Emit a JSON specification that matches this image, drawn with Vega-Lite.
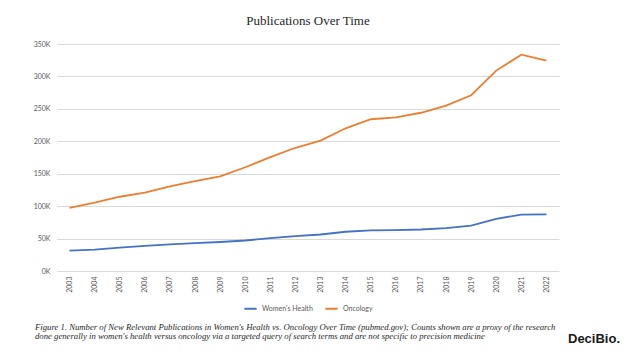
{
  "$schema": "https://vega.github.io/schema/vega-lite/v6.json",
  "background": "white",
  "padding": {"left": 33, "top": 15, "right": 0, "bottom": 0},
  "spacing": 9,
  "resolve": {"scale": {"color": "independent"}, "legend": {"color": "independent"}},
  "config": {
    "view": {"stroke": null},
    "font": "Lato",
    "legend": {"layout": {"bottom": {"anchor": "middle"}}}
  },
  "vconcat": [
    {
      "title": {
        "text": "Publications Over Time",
        "font": "Liberation Serif",
        "fontSize": 13,
        "fontWeight": "normal",
        "color": "#262626",
        "anchor": "middle",
        "offset": 12
      },
      "width": 502,
      "height": 227,
      "data": {
        "values": [
          {"year": "2003", "series": "Women's Health", "count": 31500},
          {"year": "2004", "series": "Women's Health", "count": 33000},
          {"year": "2005", "series": "Women's Health", "count": 36000},
          {"year": "2006", "series": "Women's Health", "count": 38700},
          {"year": "2007", "series": "Women's Health", "count": 41000},
          {"year": "2008", "series": "Women's Health", "count": 43000},
          {"year": "2009", "series": "Women's Health", "count": 44700},
          {"year": "2010", "series": "Women's Health", "count": 47000},
          {"year": "2011", "series": "Women's Health", "count": 50700},
          {"year": "2012", "series": "Women's Health", "count": 53700},
          {"year": "2013", "series": "Women's Health", "count": 56300},
          {"year": "2014", "series": "Women's Health", "count": 60500},
          {"year": "2015", "series": "Women's Health", "count": 62500},
          {"year": "2016", "series": "Women's Health", "count": 63000},
          {"year": "2017", "series": "Women's Health", "count": 64000},
          {"year": "2018", "series": "Women's Health", "count": 66000},
          {"year": "2019", "series": "Women's Health", "count": 70000},
          {"year": "2020", "series": "Women's Health", "count": 80500},
          {"year": "2021", "series": "Women's Health", "count": 87000},
          {"year": "2022", "series": "Women's Health", "count": 87200},
          {"year": "2003", "series": "Oncology", "count": 97500},
          {"year": "2004", "series": "Oncology", "count": 105500},
          {"year": "2005", "series": "Oncology", "count": 114500},
          {"year": "2006", "series": "Oncology", "count": 121000},
          {"year": "2007", "series": "Oncology", "count": 130500},
          {"year": "2008", "series": "Oncology", "count": 138500},
          {"year": "2009", "series": "Oncology", "count": 146000},
          {"year": "2010", "series": "Oncology", "count": 160000},
          {"year": "2011", "series": "Oncology", "count": 175500},
          {"year": "2012", "series": "Oncology", "count": 190000},
          {"year": "2013", "series": "Oncology", "count": 201000},
          {"year": "2014", "series": "Oncology", "count": 220000},
          {"year": "2015", "series": "Oncology", "count": 234000},
          {"year": "2016", "series": "Oncology", "count": 237000},
          {"year": "2017", "series": "Oncology", "count": 244000},
          {"year": "2018", "series": "Oncology", "count": 255000},
          {"year": "2019", "series": "Oncology", "count": 271000},
          {"year": "2020", "series": "Oncology", "count": 309000},
          {"year": "2021", "series": "Oncology", "count": 333500},
          {"year": "2022", "series": "Oncology", "count": 324500}
        ]
      },
      "mark": {"type": "line", "strokeWidth": 1.8},
      "encoding": {
        "x": {
          "field": "year",
          "type": "ordinal",
          "scale": {"type": "point", "padding": 0.5},
          "axis": {
            "title": null,
            "labelAngle": -90,
            "labelFontSize": 7,
            "labelColor": "#595959",
            "ticks": false,
            "domain": false,
            "labelPadding": 5
          }
        },
        "y": {
          "field": "count",
          "type": "quantitative",
          "scale": {"domain": [0, 350000], "nice": false},
          "axis": {
            "title": null,
            "values": [0, 50000, 100000, 150000, 200000, 250000, 300000, 350000],
            "labelExpr": "datum.value / 1000 + 'K'",
            "gridColor": "#D9D9D9",
            "domain": false,
            "ticks": false,
            "tickSize": 0,
            "labelPadding": 7,
            "labelFontSize": 7,
            "labelColor": "#595959"
          }
        },
        "color": {
          "field": "series",
          "type": "nominal",
          "sort": ["Women's Health", "Oncology"],
          "scale": {"domain": ["Women's Health", "Oncology"], "range": ["#4472C4", "#ED7D31"]},
          "legend": {
            "orient": "bottom",
            "title": null,
            "direction": "horizontal",
            "symbolType": "stroke",
            "symbolStrokeWidth": 2,
            "symbolSize": 150,
            "labelFontSize": 7,
            "labelColor": "#595959",
            "offset": 8,
            "columnPadding": 8
          }
        }
      }
    },
    {
      "spacing": 6,
      "hconcat": [
        {
          "width": 505,
          "height": 1,
          "data": {"values": [{"t": ""}]},
          "mark": {"type": "text"},
          "encoding": {"text": {"field": "t"}},
          "title": {
            "text": [
              "Figure 1. Number of New Relevant Publications in Women's Health vs. Oncology Over Time (pubmed.gov); Counts shown are a proxy of the research",
              "done generally in women's health versus oncology via a targeted query of search terms and are not specific to precision medicine"
            ],
            "anchor": "start",
            "orient": "top",
            "font": "Liberation Serif",
            "fontStyle": "italic",
            "fontWeight": "normal",
            "fontSize": 8.7,
            "lineHeight": 9,
            "color": "#262626",
            "dx": -22,
            "offset": 6
          }
        },
        {
          "width": 54,
          "height": 1,
          "data": {"values": [{"t": ""}]},
          "mark": {"type": "text"},
          "encoding": {"text": {"field": "t"}},
          "title": {
            "text": "DeciBio.",
            "anchor": "start",
            "orient": "top",
            "font": "Liberation Sans",
            "fontWeight": "bold",
            "fontSize": 13,
            "color": "#1a1a1a",
            "offset": 1
          }
        }
      ]
    }
  ]
}
